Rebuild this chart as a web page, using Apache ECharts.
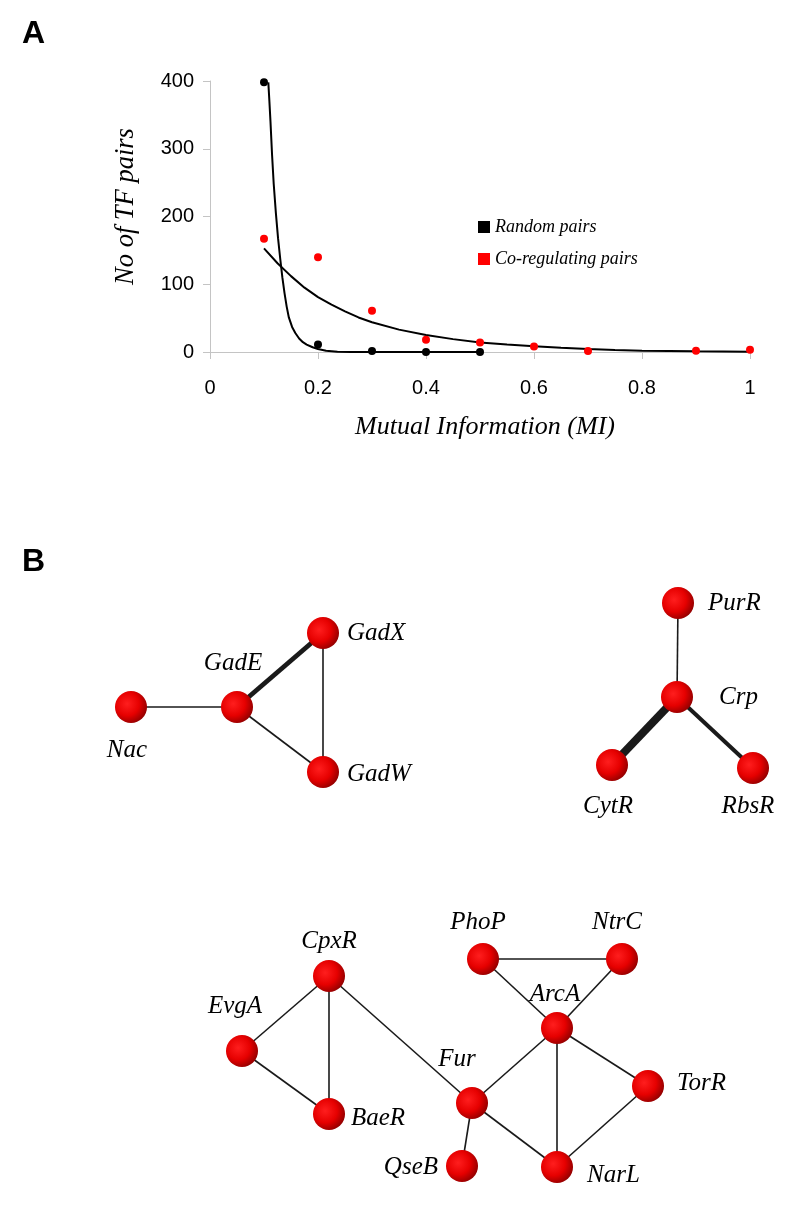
<!DOCTYPE html>
<html>
<head>
<meta charset="utf-8">
<script src="https://cdn.jsdelivr.net/npm/echarts@6/dist/echarts.min.js"></script>
<style>
  html, body { margin: 0; padding: 0; background: #fff; }
  #chart { width: 800px; height: 1207px; }
</style>
</head>
<body>
<div id="chart"></div>
<script>
// ---- panel A data ----
const randomPts = [[0.1, 398], [0.2, 11], [0.3, 1.5], [0.4, 0], [0.5, 0]];
const coregPts = [[0.1, 167], [0.2, 140], [0.3, 61], [0.4, 18], [0.5, 14], [0.6, 8], [0.7, 1.5], [0.9, 2], [1.0, 3.5]];
// fitted trend lines
const randomFit = [[0.108, 398], [0.11, 370], [0.112, 340], [0.115, 290], [0.118, 248], [0.122, 205],
  [0.126, 168], [0.13, 138], [0.134, 110], [0.138, 87], [0.142, 67], [0.146, 51], [0.152, 37],
  [0.158, 28], [0.165, 20], [0.172, 14.5], [0.179, 11], [0.19, 7], [0.2, 4.4], [0.215, 2],
  [0.236, 0.5], [0.26, 0], [0.5, 0]];
const coregFit = [[0.1, 153], [0.125, 131], [0.15, 112], [0.175, 95], [0.2, 81], [0.225, 70],
  [0.25, 60], [0.275, 51], [0.3, 44], [0.35, 33], [0.4, 25], [0.45, 19], [0.5, 14], [0.55, 11],
  [0.6, 8.4], [0.65, 6.2], [0.7, 4.4], [0.75, 3], [0.8, 2], [0.9, 1], [1.0, 0.5]];

// ---- panel B data ----
const nodeNames = ["Nac", "GadE", "GadX", "GadW",
  "PurR", "Crp", "CytR", "RbsR",
  "CpxR", "EvgA", "BaeR", "Fur", "QseB", "PhoP", "NtrC", "ArcA", "TorR", "NarL"];
const nodeX = [131, 237, 323, 323, 678, 677, 612, 753, 329, 242, 329, 472, 462, 483, 622, 557, 648, 557];
const nodeY = [707, 707, 633, 772, 603, 697, 765, 768, 976, 1051, 1114, 1103, 1166, 959, 959, 1028, 1086, 1167];
const edgeFrom = ["Nac", "GadE", "GadE", "GadX", "PurR", "Crp", "Crp",
  "EvgA", "EvgA", "CpxR", "CpxR", "Fur", "Fur", "Fur", "PhoP", "PhoP", "NtrC", "ArcA", "ArcA", "TorR"];
const edgeTo = ["GadE", "GadX", "GadW", "GadW", "Crp", "CytR", "RbsR",
  "CpxR", "BaeR", "BaeR", "Fur", "QseB", "ArcA", "NarL", "NtrC", "ArcA", "ArcA", "NarL", "TorR", "NarL"];
const edgeWeight = [1, 3, 1, 1, 1, 5, 2.5, 1, 1, 1, 1, 1, 1, 1, 1, 1, 1, 1, 1, 1];

const labelPlace = {
  Nac: ["bottom", [-4, 7]], GadE: ["top", [-4, -7]], GadX: ["right", [0, 0]], GadW: ["right", [0, 2]],
  PurR: ["right", [6, 0]], Crp: ["right", [18, 0]], CytR: ["bottom", [-4, 5]], RbsR: ["bottom", [-5, 2]],
  CpxR: ["top", [0, 2]], EvgA: ["top", [-7, -8]], BaeR: ["right", [-2, 4]], Fur: ["top", [-15, -7]],
  QseB: ["left", [0, 1]], PhoP: ["top", [-5, 0]], NtrC: ["top", [-5, 0]], ArcA: ["top", [-2, 3]],
  TorR: ["right", [5, -3]], NarL: ["right", [6, 8]]
};

const serifItalic = { fontFamily: "Liberation Serif", fontStyle: "italic", color: "#000" };
const ball = {
  type: "radial", x: 0.38, y: 0.4, r: 0.68,
  colorStops: [
    { offset: 0, color: "#ff1e1e" },
    { offset: 0.55, color: "#e60000" },
    { offset: 1, color: "#8a0000" }
  ]
};

let nodes = nodeNames.map((n, i) => ({
  name: n,
  value: [nodeX[i], nodeY[i]],
  label: { position: labelPlace[n][0], offset: labelPlace[n][1] }
}));
let links = edgeFrom.map((s, i) => ({
  source: s, target: edgeTo[i],
  lineStyle: { width: edgeWeight[i] * 1.6 }
}));

let chart = echarts.init(document.getElementById("chart"), null, { renderer: "canvas" });
let axisGray = "#c4c4c4";
let option = {
  animation: false,
  backgroundColor: "#fff",
  graphic: [
    { type: "text", left: 22, top: 18, style: { text: "A", font: "bold 32px Liberation Sans", fill: "#000" } },
    { type: "text", left: 22, top: 546, style: { text: "B", font: "bold 32px Liberation Sans", fill: "#000" } }
  ],
  legend: {
    data: ["Random pairs", "Co-regulating pairs"],
    orient: "vertical",
    left: 473, top: 212,
    icon: "rect", itemWidth: 12, itemHeight: 12, itemGap: 12,
    itemStyle: { opacity: 1 },
    textStyle: Object.assign({ fontSize: 18, lineHeight: 20 }, serifItalic)
  },
  grid: [
    { left: 210, right: 50, top: 81, bottom: 855 },
    { left: 0, right: 0, top: 0, bottom: 0 }
  ],
  xAxis: [
    {
      type: "value", gridIndex: 0, min: 0, max: 1, interval: 0.2,
      name: "Mutual Information (MI)", nameLocation: "middle", nameGap: 62,
      nameTextStyle: Object.assign({ fontSize: 26, padding: [0, 0, 0, 10] }, serifItalic),
      axisLine: { lineStyle: { color: axisGray, width: 1 } },
      axisTick: { show: true, length: 7, lineStyle: { color: axisGray } },
      axisLabel: { margin: 26, fontSize: 20, fontFamily: "Liberation Sans", color: "#000",
        formatter: v => String(+v.toFixed(1)) },
      splitLine: { show: false }
    },
    { type: "value", gridIndex: 1, min: 0, max: 800, show: false }
  ],
  yAxis: [
    {
      type: "value", gridIndex: 0, min: 0, max: 400, interval: 100,
      name: "No of TF pairs", nameLocation: "middle", nameGap: 70, nameRotate: 90,
      nameTextStyle: Object.assign({ fontSize: 26.5, padding: [0, 0, 0, 20] }, serifItalic),
      axisLine: { show: true, lineStyle: { color: axisGray, width: 1 } },
      axisTick: { show: true, length: 7, lineStyle: { color: axisGray } },
      axisLabel: { margin: 16, fontSize: 20, fontFamily: "Liberation Sans", color: "#000" },
      splitLine: { show: false }
    },
    { type: "value", gridIndex: 1, min: 0, max: 1207, inverse: true, show: false }
  ],
  series: [
    {
      name: "randomFit", type: "line", xAxisIndex: 0, yAxisIndex: 0, data: randomFit,
      smooth: false, showSymbol: false, symbol: "none",
      lineStyle: { color: "#000", width: 2 }, z: 2
    },
    {
      name: "coregFit", type: "line", xAxisIndex: 0, yAxisIndex: 0, data: coregFit,
      smooth: false, showSymbol: false, symbol: "none",
      lineStyle: { color: "#000", width: 2 }, z: 2
    },
    {
      name: "Random pairs", type: "scatter", xAxisIndex: 0, yAxisIndex: 0, data: randomPts,
      symbolSize: 8, itemStyle: { color: "#000", opacity: 1 }, z: 3
    },
    {
      name: "Co-regulating pairs", type: "scatter", xAxisIndex: 0, yAxisIndex: 0, data: coregPts,
      symbolSize: 8, itemStyle: { color: "#ff0000", opacity: 1 }, z: 3
    },
    {
      name: "networks", type: "graph", coordinateSystem: "cartesian2d",
      xAxisIndex: 1, yAxisIndex: 1, layout: "none",
      symbol: "circle", symbolSize: 32,
      itemStyle: { color: ball },
      label: Object.assign({ show: true, fontSize: 25, distance: 8, formatter: "{b}" }, serifItalic),
      lineStyle: { color: "#1a1a1a", width: 1.6, opacity: 1, curveness: 0 },
      emphasis: { disabled: true },
      data: nodes,
      links: links
    }
  ]
};
chart.setOption(option);
</script>
</body>
</html>
